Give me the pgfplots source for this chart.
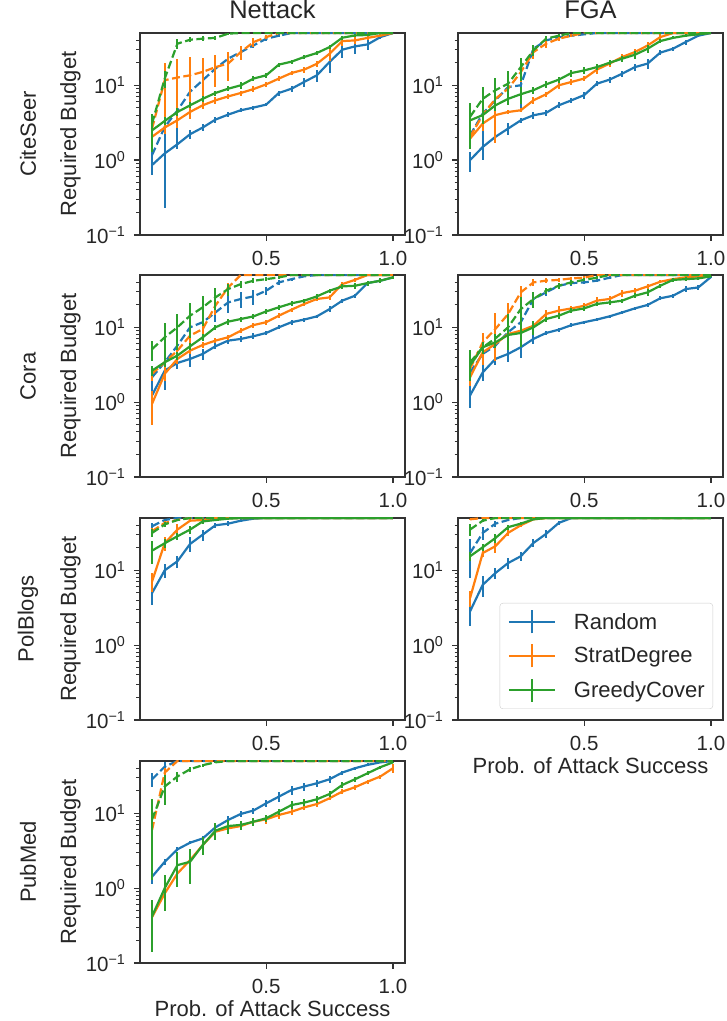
\documentclass[border=0pt]{standalone}
\usepackage{fontspec}
\setmainfont{Liberation Sans}
\usepackage{pgfplots}
\pgfplotsset{compat=1.18}

\definecolor{c0}{HTML}{1F77B4}
\definecolor{c1}{HTML}{FF7F0E}
\definecolor{c2}{HTML}{2CA02C}
\definecolor{spine}{HTML}{333333}
\definecolor{txt}{HTML}{262626}
\definecolor{legbord}{HTML}{CCCCCC}

\newcommand\tickfont{\fontsize{20.5}{24}\selectfont}
\newcommand\labfont{\fontsize{22}{26}\selectfont}
\newcommand\titfont{\fontsize{25.5}{30}\selectfont}

\pgfplotsset{
  myax/.style={
    scale only axis, width=265pt, height=202pt,
    xmin=0.0025, xmax=1.0475,
    ymin=0.1, ymax=50,
    xtick={0.5,1}, xticklabels={0.5,1.0},
    ytick={0.1,1,10},
    yticklabels={10\textsuperscript{−1},10\textsuperscript{0},10\textsuperscript{1}},
    minor ytick={0.2,0.3,0.4,0.5,0.6,0.7,0.8,0.9,2,3,4,5,6,7,8,9,20,30,40},
    tick align=outside, tick pos=left,
    major tick length=6pt, minor tick length=3.5pt,
    major tick style={spine, line width=1.3pt},
    minor tick style={spine, line width=1pt},
    axis line style={spine, line width=1.4pt},
    ticklabel style={font=\tickfont, text=txt},
    xticklabel style={yshift=-7pt},
    yticklabel style={xshift=-5pt},
    ylabel style={at={(axis description cs:-0.2623,0.5)}, rotate=0, anchor=center, font=\labfont, text=txt},
    xlabel style={at={(axis description cs:0.5,-0.2277)}, anchor=center, font=\labfont, text=txt},
    title style={font=\titfont, text=txt, at={(axis description cs:0.5,1)}, anchor=base, yshift=8pt},
  },
  ser/.style={line width=2.2pt, mark=none,
    error bars/y dir=both, error bars/y explicit, error bars/error mark=none,
    error bars/error bar style={solid, line width=2pt}},
  bs/.style={ser, c0}, os/.style={ser, c1}, gs/.style={ser, c2},
  bd/.style={ser, c0, dash pattern=on 8pt off 3.5pt, forget plot},
  od/.style={ser, c1, dash pattern=on 8pt off 3.5pt, forget plot},
  gd/.style={ser, c2, dash pattern=on 8pt off 3.5pt, forget plot},
}

\begin{document}
\begin{tikzpicture}
\useasboundingbox (0,0) rectangle (727pt,1021pt);

% row labels
\node[rotate=90, font=\labfont, text=txt] at (28pt,887pt) {CiteSeer};
\node[rotate=90, font=\labfont, text=txt] at (28pt,644.5pt) {Cora};
\node[rotate=90, font=\labfont, text=txt] at (28pt,402pt) {PolBlogs};
\node[rotate=90, font=\labfont, text=txt] at (28pt,159pt) {PubMed};

% ---------------- CiteSeer / Nettack
\begin{axis}[ymode=log, myax, at={(140pt,988pt)}, anchor=north west, title={Nettack}, ylabel={Required Budget}]
\addplot[bs] coordinates {(0.05,0.86)+-(0,0.23) (0.1,1.23)+-(0,1.0) (0.15,1.63)+-(0,0.2) (0.2,2.22)+-(0,0.3) (0.25,2.73)+-(0,0.3) (0.3,3.48)+-(0,0.3) (0.35,4.06)+-(0,0.3) (0.4,4.64)+-(0,0.3) (0.45,5.04)+-(0,0.3) (0.5,5.52)+-(0,0.3) (0.55,7.9)+-(0,0.6) (0.6,9.0)+-(0,0.8) (0.65,11.1)+-(0,1.5) (0.7,13.6)+-(0,2.5) (0.75,20.5)+-(0,6) (0.8,29.9)+-(0,7) (0.85,33.1)+-(0,7) (0.9,35.2)+-(0,6) (0.95,44)+-(0,3) (1.0,50)};
\addplot[bd] coordinates {(0.05,1.17)+-(0,0.2) (0.1,2.78)+-(0,1.5) (0.15,4.6)+-(0,3) (0.2,8.2)+-(0,3) (0.25,11.7)+-(0,2) (0.3,16.7)+-(0,2) (0.35,22.7)+-(0,3) (0.4,27.8)+-(0,3) (0.45,34.1)+-(0,3) (0.5,41.9)+-(0,3) (0.55,46)+-(0,2) (0.6,50) (1.0,50)};
\addplot[os] coordinates {(0.05,2.05)+-(0,0.7) (0.1,2.73)+-(0,0.5) (0.15,3.41)+-(0,0.5) (0.2,4.41)+-(0,0.8) (0.25,5.41)+-(0,0.6) (0.3,6.3)+-(0,0.6) (0.35,7.1)+-(0,0.6) (0.4,7.9)+-(0,0.6) (0.45,8.9)+-(0,0.8) (0.5,10.3)+-(0,0.8) (0.55,12.3)+-(0,1) (0.6,14.6)+-(0,1) (0.65,16.2)+-(0,1.5) (0.7,19.4)+-(0,2) (0.75,26.4)+-(0,5) (0.8,39)+-(0,5) (0.85,39.8)+-(0,4) (0.9,43)+-(0,3) (0.95,46)+-(0,2) (1.0,50)};
\addplot[od] coordinates {(0.05,2.64)+-(0,0.5) (0.1,11.7)+-(0,8) (0.15,12.7)+-(0,10) (0.2,13.6)+-(0,10) (0.25,15.1)+-(0,8) (0.3,17.5)+-(0,8) (0.35,19.5)+-(0,8) (0.4,27.8)+-(0,6) (0.45,37.8)+-(0,5) (0.5,44)+-(0,3) (0.55,50) (1.0,50)};
\addplot[gs] coordinates {(0.05,2.5)+-(0,1.2) (0.1,3.34)+-(0,0.4) (0.15,4.4)+-(0,0.5) (0.2,5.4)+-(0,0.5) (0.25,6.6)+-(0,0.6) (0.3,7.9)+-(0,0.6) (0.35,9.0)+-(0,0.7) (0.4,10)+-(0,1) (0.45,12.3)+-(0,1) (0.5,13.6)+-(0,1) (0.55,18.9)+-(0,1.2) (0.6,20.7)+-(0,1.2) (0.65,23.9)+-(0,1.5) (0.7,27)+-(0,1.5) (0.75,32.4)+-(0,2) (0.8,43.2)+-(0,3) (0.85,46.4)+-(0,2) (0.9,47)+-(0,2) (0.95,50) (1.0,50)};
\addplot[gd] coordinates {(0.05,3.08)+-(0,1.0) (0.1,12.3)+-(0,3) (0.15,36)+-(0,5) (0.2,40.6)+-(0,3) (0.25,42)+-(0,3) (0.3,43)+-(0,3) (0.35,49)+-(0,1) (0.4,50) (1.0,50)};
\end{axis}

% ---------------- CiteSeer / FGA
\begin{axis}[ymode=log, myax, at={(458pt,988pt)}, anchor=north west, title={FGA}]
\addplot[bs] coordinates {(0.05,1.0)+-(0,0.3) (0.1,1.5)+-(0,0.5) (0.15,2.05)+-(0,0.2) (0.2,2.64)+-(0,0.5) (0.25,3.4)+-(0,0.3) (0.3,3.98)+-(0,0.4) (0.35,4.28)+-(0,0.4) (0.4,5.41)+-(0,0.5) (0.45,6.3)+-(0,0.5) (0.5,7.4)+-(0,0.8) (0.55,10.5)+-(0,0.8) (0.6,11.9)+-(0,1) (0.65,14.3)+-(0,1.2) (0.7,17.5)+-(0,2) (0.75,19.5)+-(0,3) (0.8,27.3)+-(0,2) (0.85,30.8)+-(0,2) (0.9,37.8)+-(0,3) (0.95,46)+-(0,2) (1.0,50)};
\addplot[bd] coordinates {(0.05,2.15)+-(0,0.5) (0.1,4.19)+-(0,3) (0.15,6.3)+-(0,2) (0.2,9.5)+-(0,4) (0.25,10)+-(0,5) (0.3,30.8)+-(0,4) (0.35,39.8)+-(0,3) (0.4,44)+-(0,3) (0.45,46)+-(0,2) (0.5,48)+-(0,1) (0.55,50) (1.0,50)};
\addplot[os] coordinates {(0.05,1.94)+-(0,0.5) (0.1,3.08)+-(0,0.6) (0.15,4.0)+-(0,2.3) (0.2,4.4)+-(0,0.3) (0.25,4.64)+-(0,0.3) (0.3,6.3)+-(0,0.6) (0.35,7.6)+-(0,0.6) (0.4,10)+-(0,1) (0.45,11.1)+-(0,1) (0.5,12.3)+-(0,1) (0.55,16.2)+-(0,2) (0.6,19.5)+-(0,2) (0.65,23.9)+-(0,2) (0.7,27.8)+-(0,3) (0.75,34)+-(0,4) (0.8,44)+-(0,4) (0.85,50) (1.0,50)};
\addplot[od] coordinates {(0.05,2.05)+-(0,0.4) (0.1,4.0)+-(0,1) (0.15,6.6)+-(0,2) (0.2,9.0)+-(0,3) (0.25,15)+-(0,4) (0.3,27.8)+-(0,5) (0.35,36)+-(0,4) (0.4,42)+-(0,3) (0.45,46)+-(0,2) (0.5,50) (1.0,50)};
\addplot[gs] coordinates {(0.05,3.4)+-(0,2) (0.1,4.0)+-(0,1) (0.15,5.4)+-(0,0.8) (0.2,6.6)+-(0,1) (0.25,7.6)+-(0,2) (0.3,8.6)+-(0,1) (0.35,10.3)+-(0,1) (0.4,11.9)+-(0,1) (0.45,14.6)+-(0,1.5) (0.5,15.8)+-(0,1.5) (0.55,17.5)+-(0,1.5) (0.6,20)+-(0,1.5) (0.65,22.7)+-(0,2) (0.7,25.6)+-(0,3) (0.75,30.8)+-(0,4) (0.8,39)+-(0,2) (0.85,43)+-(0,2) (0.9,46)+-(0,2) (0.95,48)+-(0,1) (1.0,50)};
\addplot[gd] coordinates {(0.05,3.8)+-(0,2) (0.1,6.6)+-(0,3) (0.15,8.6)+-(0,4) (0.2,10.5)+-(0,5) (0.25,17.5)+-(0,6) (0.3,29.3)+-(0,5) (0.35,42)+-(0,3) (0.4,46)+-(0,2) (0.45,50) (1.0,50)};
\end{axis}

% ---------------- Cora / Nettack
\begin{axis}[ymode=log, myax, at={(140pt,746pt)}, anchor=north west, ylabel={Required Budget}]
\addplot[bs] coordinates {(0.05,1.23)+-(0,0.4) (0.1,2.64)+-(0,1.2) (0.15,3.34)+-(0,0.6) (0.2,3.78)+-(0,0.8) (0.25,4.41)+-(0,0.7) (0.3,5.58)+-(0,0.5) (0.35,6.64)+-(0,0.6) (0.4,6.99)+-(0,0.7) (0.45,7.6)+-(0,0.7) (0.5,8.4)+-(0,0.6) (0.55,10)+-(0,0.6) (0.6,11.7)+-(0,0.8) (0.65,12.7)+-(0,0.8) (0.7,14)+-(0,0.8) (0.75,17.5)+-(0,1.5) (0.8,22.7)+-(0,1.5) (0.85,26.4)+-(0,1.5) (0.9,39)+-(0,3) (0.95,41.9)+-(0,3) (1.0,46.4)+-(0,2)};
\addplot[bd] coordinates {(0.05,2.15)+-(0,0.5) (0.1,3.41)+-(0,0.8) (0.15,5.7)+-(0,1.5) (0.2,10)+-(0,3) (0.25,11.7)+-(0,3) (0.3,15.8)+-(0,4) (0.35,21.5)+-(0,6) (0.4,23.9)+-(0,6) (0.45,25.9)+-(0,6) (0.5,30.8)+-(0,4) (0.55,39.8)+-(0,3) (0.6,44)+-(0,2) (0.65,48)+-(0,1) (0.7,50) (1.0,50)};
\addplot[os] coordinates {(0.05,0.95)+-(0,0.45) (0.1,2.39)+-(0,0.5) (0.15,3.78)+-(0,0.5) (0.2,4.88)+-(0,0.5) (0.25,5.81)+-(0,0.5) (0.3,6.64)+-(0,0.5) (0.35,7.36)+-(0,0.6) (0.4,9.0)+-(0,0.7) (0.45,10.7)+-(0,0.8) (0.5,11.7)+-(0,0.8) (0.55,14.3)+-(0,1) (0.6,17.2)+-(0,1) (0.65,20.5)+-(0,1.5) (0.7,23.9)+-(0,1.5) (0.75,25.1)+-(0,2) (0.8,37.8)+-(0,3) (0.85,43)+-(0,3) (0.9,50) (1.0,50)};
\addplot[od] coordinates {(0.05,2.39)+-(0,0.5) (0.1,3.41)+-(0,0.8) (0.15,4.88)+-(0,1) (0.2,7.74)+-(0,2) (0.25,9.5)+-(0,3) (0.3,19.5)+-(0,5) (0.35,34)+-(0,5) (0.4,50) (1.0,50)};
\addplot[gs] coordinates {(0.05,2.64)+-(0,0.4) (0.1,3.41)+-(0,0.5) (0.15,4.19)+-(0,0.5) (0.2,5.58)+-(0,0.6) (0.25,7.36)+-(0,0.8) (0.3,10)+-(0,0.8) (0.35,11.9)+-(0,1) (0.4,12.9)+-(0,1) (0.45,14)+-(0,1.2) (0.5,16.3)+-(0,1.2) (0.55,18.5)+-(0,1.5) (0.6,20.9)+-(0,1.5) (0.65,22.7)+-(0,1.5) (0.7,25.9)+-(0,2) (0.75,30.8)+-(0,2) (0.8,35.2)+-(0,3) (0.85,35.9)+-(0,3) (0.9,39)+-(0,3) (0.95,41.9)+-(0,3) (1.0,46.4)+-(0,2)};
\addplot[gd] coordinates {(0.05,5.1)+-(0,1.5) (0.1,7.36)+-(0,4) (0.15,10)+-(0,5) (0.2,14.3)+-(0,7) (0.25,18.5)+-(0,8) (0.3,25.1)+-(0,8) (0.35,32.4)+-(0,6) (0.4,37.8)+-(0,4) (0.45,41.9)+-(0,3) (0.5,44)+-(0,3) (0.55,46.4)+-(0,2) (0.6,50) (1.0,50)};
\end{axis}

% ---------------- Cora / FGA
\begin{axis}[ymode=log, myax, at={(458pt,746pt)}, anchor=north west]
\addplot[bs] coordinates {(0.05,1.23)+-(0,0.4) (0.1,2.5)+-(0,0.6) (0.15,3.78)+-(0,0.6) (0.2,4.41)+-(0,1) (0.25,5.41)+-(0,1.5) (0.3,7.0)+-(0,1) (0.35,8.4)+-(0,0.6) (0.4,9.3)+-(0,0.6) (0.45,10.7)+-(0,0.6) (0.5,11.7)+-(0,0.6) (0.55,12.7)+-(0,0.6) (0.6,14)+-(0,0.6) (0.65,15.8)+-(0,0.8) (0.7,17.9)+-(0,1) (0.75,19.9)+-(0,1) (0.8,24.4)+-(0,1.5) (0.85,26.4)+-(0,1.5) (0.9,32.4)+-(0,3) (0.95,34.1)+-(0,3) (1.0,47)+-(0,2)};
\addplot[bd] coordinates {(0.05,2.5)+-(0,0.6) (0.1,4.41)+-(0,1) (0.15,5.7)+-(0,1) (0.2,8.6)+-(0,2) (0.25,11.7)+-(0,3) (0.3,23.9)+-(0,6) (0.35,29.3)+-(0,3) (0.4,35.9)+-(0,3) (0.45,39)+-(0,3) (0.5,39.8)+-(0,2) (0.55,42)+-(0,2) (0.6,46)+-(0,2) (0.65,50) (1.0,50)};
\addplot[os] coordinates {(0.05,2.15)+-(0,0.5) (0.1,4.64)+-(0,1.5) (0.15,6.0)+-(0,1) (0.2,8.15)+-(0,1) (0.25,9.0)+-(0,1) (0.3,10.5)+-(0,1.5) (0.35,15.1)+-(0,2) (0.4,16.7)+-(0,2.5) (0.45,17.9)+-(0,1.5) (0.5,19.4)+-(0,1.5) (0.55,22.7)+-(0,3) (0.6,23.9)+-(0,2) (0.65,28.7)+-(0,3) (0.7,30.8)+-(0,3) (0.75,35.2)+-(0,3) (0.8,40.6)+-(0,2) (0.85,44)+-(0,2) (0.9,46.4)+-(0,2) (0.95,48)+-(0,1) (1.0,50)};
\addplot[od] coordinates {(0.05,2.8)+-(0,0.6) (0.1,6.3)+-(0,2) (0.15,9.5)+-(0,6) (0.2,15)+-(0,6) (0.25,29.3)+-(0,6) (0.3,39.8)+-(0,4) (0.35,42)+-(0,3) (0.4,43)+-(0,3) (0.45,45)+-(0,2) (0.5,46)+-(0,2) (0.55,50) (1.0,50)};
\addplot[gs] coordinates {(0.05,3.08)+-(0,1) (0.1,5.41)+-(0,1) (0.15,6.3)+-(0,1) (0.2,7.9)+-(0,3) (0.25,8.4)+-(0,3) (0.3,10)+-(0,2) (0.35,12.9)+-(0,1) (0.4,14.3)+-(0,1.2) (0.45,16.7)+-(0,1.2) (0.5,17.9)+-(0,1.2) (0.55,20.5)+-(0,1.5) (0.6,21.5)+-(0,1.5) (0.65,22.7)+-(0,1.5) (0.7,26.4)+-(0,2) (0.75,29.3)+-(0,3) (0.8,35.9)+-(0,2) (0.85,43)+-(0,3) (0.9,44)+-(0,3) (0.95,45)+-(0,2) (1.0,48)+-(0,1)};
\addplot[gd] coordinates {(0.05,3.4)+-(0,1.5) (0.1,5.4)+-(0,1) (0.15,7.1)+-(0,1) (0.2,10)+-(0,5) (0.25,17.5)+-(0,8) (0.3,23.9)+-(0,6) (0.35,30.8)+-(0,3) (0.4,36)+-(0,3) (0.45,40)+-(0,3) (0.5,43)+-(0,2) (0.55,46)+-(0,2) (0.6,50) (1.0,50)};
\end{axis}

% ---------------- PolBlogs / Nettack
\begin{axis}[ymode=log, myax, at={(140pt,503pt)}, anchor=north west, ylabel={Required Budget}]
\addplot[bs] coordinates {(0.05,4.97)+-(0,1.5) (0.1,10)+-(0,2) (0.15,13.2)+-(0,2.5) (0.2,22.5)+-(0,5) (0.25,30)+-(0,5) (0.3,40)+-(0,3) (0.35,42)+-(0,3) (0.4,46)+-(0,2) (0.45,49)+-(0,1) (0.5,50) (1.0,50)};
\addplot[bd] coordinates {(0.05,38.8)+-(0,4) (0.1,47)+-(0,2) (0.15,50) (1.0,50)};
\addplot[os] coordinates {(0.05,7.1)+-(0,2) (0.1,23)+-(0,5) (0.15,35)+-(0,7) (0.2,46)+-(0,2) (0.25,47)+-(0,2) (0.3,50) (1.0,50)};
\addplot[od] coordinates {(0.05,33.3)+-(0,3) (0.1,43)+-(0,3) (0.15,47)+-(0,2) (0.2,50) (1.0,50)};
\addplot[gs] coordinates {(0.05,18.3)+-(0,6) (0.1,23)+-(0,3) (0.15,28.5)+-(0,3) (0.2,35)+-(0,4) (0.25,45)+-(0,3) (0.3,47)+-(0,2) (0.35,49)+-(0,1) (0.4,50) (1.0,50)};
\addplot[gd] coordinates {(0.05,31.6)+-(0,4) (0.1,41)+-(0,3) (0.15,47)+-(0,2) (0.2,50) (1.0,50)};
\end{axis}

% ---------------- PolBlogs / FGA
\begin{axis}[ymode=log, myax, at={(458pt,503pt)}, anchor=north west, xlabel={Prob. of Attack Success},
  legend cell align=left,
  legend image code/.code={\path[draw=none, fill=none] (0pt,-11.5pt) (65pt,11.5pt); \draw[#1] (0pt,0pt) -- (46pt,0pt); \draw[#1] (23pt,-11.5pt) -- (23pt,11.5pt);},
  legend style={at={(axis description cs:1,0)}, anchor=south east, xshift=-10pt, yshift=11pt,
    draw=legbord, fill=white, fill opacity=0.8, text opacity=1, rounded corners=3pt,
    font=\labfont, text=txt, row sep=9pt, inner xsep=8pt, inner ysep=6pt,
    nodes={inner xsep=0pt, inner ysep=0pt}}]
\addplot[bs] coordinates {(0.05,2.83)+-(0,1) (0.1,6.4)+-(0,2) (0.15,9.2)+-(0,1.5) (0.2,12.5)+-(0,2) (0.25,15.4)+-(0,2) (0.3,23.2)+-(0,3) (0.35,30.7)+-(0,4) (0.4,43)+-(0,3) (0.45,50) (1.0,50)};
\addlegendentry{Random}
\addplot[bd] coordinates {(0.05,17)+-(0,9) (0.1,31.6)+-(0,6) (0.15,42)+-(0,4) (0.2,47)+-(0,2) (0.25,50) (1.0,50)};
\addplot[os] coordinates {(0.05,4.25)+-(0,1) (0.1,17)+-(0,2) (0.15,21)+-(0,4) (0.2,31.6)+-(0,3) (0.25,40)+-(0,2) (0.3,48)+-(0,1) (0.35,50) (1.0,50)};
\addlegendentry{StratDegree}
\addplot[od] coordinates {(0.05,48)+-(0,1) (0.1,50) (1.0,50)};
\addplot[gs] coordinates {(0.05,15.4)+-(0,2) (0.1,20.3)+-(0,2) (0.15,27)+-(0,4) (0.2,37.7)+-(0,3) (0.25,42)+-(0,2) (0.3,48)+-(0,1) (0.35,50) (1.0,50)};
\addlegendentry{GreedyCover}
\addplot[gd] coordinates {(0.05,35)+-(0,6) (0.1,46)+-(0,2) (0.15,50) (1.0,50)};
\end{axis}

% ---------------- PubMed / Nettack
\begin{axis}[ymode=log, myax, at={(140pt,260pt)}, anchor=north west, ylabel={Required Budget}, xlabel={Prob. of Attack Success}]
\addplot[bs] coordinates {(0.05,1.42)+-(0,0.3) (0.1,2.25)+-(0,0.2) (0.15,3.3)+-(0,0.2) (0.2,4.05)+-(0,0.2) (0.25,4.62)+-(0,0.3) (0.3,6.5)+-(0,0.8) (0.35,8.15)+-(0,1) (0.4,9.8)+-(0,1) (0.45,10.9)+-(0,1) (0.5,13.6)+-(0,1.5) (0.55,16.7)+-(0,2.5) (0.6,20.5)+-(0,3) (0.65,22.8)+-(0,3) (0.7,25.2)+-(0,3) (0.75,28.5)+-(0,3) (0.8,35)+-(0,2) (0.85,40)+-(0,2) (0.9,44.4)+-(0,2) (0.95,48)+-(0,1) (1.0,50)};
\addplot[bd] coordinates {(0.05,28.5)+-(0,6) (0.1,42)+-(0,6) (0.15,50) (1.0,50)};
\addplot[os] coordinates {(0.05,0.41)+-(0,0.15) (0.1,0.85)+-(0,0.3) (0.15,1.57)+-(0,0.3) (0.2,2.37)+-(0,0.4) (0.25,3.77)+-(0,0.5) (0.3,5.68)+-(0,0.8) (0.35,6.3)+-(0,0.8) (0.4,6.76)+-(0,0.8) (0.45,7.73)+-(0,0.8) (0.5,8.3)+-(0,1) (0.55,9.5)+-(0,1) (0.6,10.5)+-(0,1) (0.65,12)+-(0,1) (0.7,13.3)+-(0,1) (0.75,15.9)+-(0,1) (0.8,19.5)+-(0,1.5) (0.85,22.3)+-(0,1.5) (0.9,26.5)+-(0,1.5) (0.95,31)+-(0,2) (1.0,40)+-(0,5)};
\addplot[od] coordinates {(0.05,6.0)+-(0,1) (0.1,35)+-(0,5) (0.15,50) (1.0,50)};
\addplot[gs] coordinates {(0.05,0.42)+-(0,0.28) (0.1,1.0)+-(0,0.5) (0.15,2.03)+-(0,1) (0.2,2.25)+-(0,1.1) (0.25,3.77)+-(0,1) (0.3,5.86)+-(0,1.5) (0.35,6.76)+-(0,1.5) (0.4,7.0)+-(0,1) (0.45,7.73)+-(0,1) (0.5,8.58)+-(0,1) (0.55,10.5)+-(0,1) (0.6,12.9)+-(0,1.5) (0.65,13.9)+-(0,1.5) (0.7,15.4)+-(0,1.5) (0.75,18.1)+-(0,1.5) (0.8,23.9)+-(0,2) (0.85,28.5)+-(0,2) (0.9,34.3)+-(0,2) (0.95,41.3)+-(0,2) (1.0,48)+-(0,1)};
\addplot[gd] coordinates {(0.05,8.3)+-(0,7) (0.1,22.8)+-(0,10) (0.15,31)+-(0,5) (0.2,38.8)+-(0,3) (0.25,44)+-(0,2) (0.3,48)+-(0,1) (0.35,50) (1.0,50)};
\end{axis}
\end{tikzpicture}
\end{document}
